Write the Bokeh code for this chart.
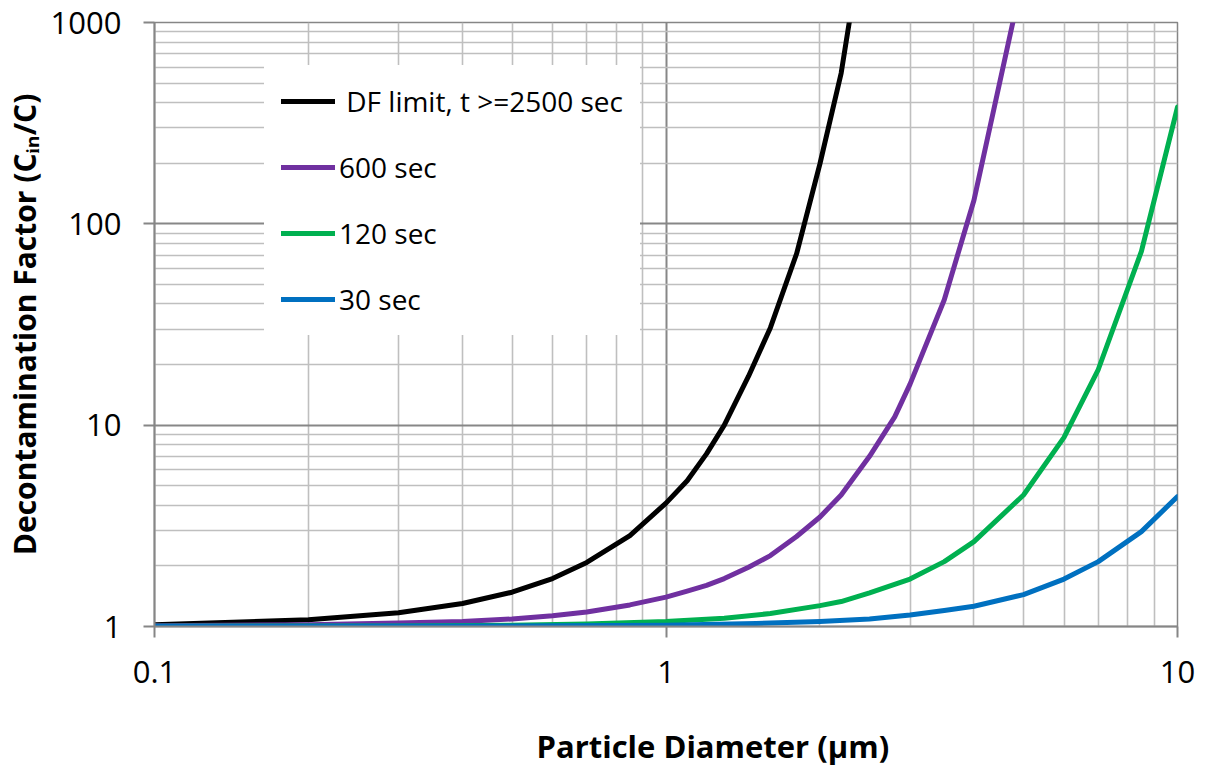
from bokeh.plotting import figure
from bokeh.models import FixedTicker, Legend, LegendItem, Range1d, Title
from bokeh.embed import file_html
from bokeh.resources import INLINE

# ---- data ----
x_black = [0.1, 0.2, 0.3, 0.4, 0.5, 0.6, 0.7, 0.85, 1.0, 1.1, 1.2, 1.3, 1.45, 1.6, 1.8, 2.0, 2.2, 2.5]
df_black = [1.02, 1.08, 1.17, 1.30, 1.48, 1.73, 2.08, 2.83, 4.1, 5.3, 7.2, 10.0, 17.5, 30.5, 71, 199, 560, 4300]

x_600 = [0.1, 0.2, 0.3, 0.4, 0.5, 0.6, 0.7, 0.85, 1.0, 1.1, 1.2, 1.3, 1.45, 1.6, 1.8, 2.0, 2.2, 2.5, 2.8, 3.0, 3.5, 4.0, 5.0]
df_600 = [1.01, 1.02, 1.04, 1.06, 1.09, 1.13, 1.18, 1.28, 1.40, 1.50, 1.60, 1.73, 1.97, 2.25, 2.8, 3.5, 4.5, 7.0, 11.0, 16.0, 42, 131, 1750]

x_120 = [0.1, 0.3, 0.5, 0.7, 1.0, 1.3, 1.6, 2.0, 2.2, 2.5, 3.0, 3.5, 4.0, 5.0, 6.0, 7.0, 8.5, 10]
df_120 = [1.003, 1.007, 1.015, 1.03, 1.06, 1.10, 1.16, 1.27, 1.33, 1.47, 1.72, 2.10, 2.64, 4.5, 8.7, 18.9, 73, 380]

x_30 = [0.1, 0.5, 1.0, 1.5, 2.0, 2.5, 3.0, 3.5, 4.0, 5.0, 6.0, 7.0, 8.5, 10]
df_30 = [1.003, 1.006, 1.015, 1.035, 1.06, 1.09, 1.14, 1.20, 1.26, 1.44, 1.72, 2.10, 2.96, 4.42]

series_names = [" DF limit, t >=2500 sec", "600 sec", "120 sec", "30 sec"]
series_colors = ["#000000", "#7030A0", "#00B050", "#0070C0"]

x_title = "Particle Diameter (\u03bcm)"
y_title = "Decontamination Factor (C\u1d62\u2099/C)"

x_ticks = [0.1, 1, 10]
x_tick_labels = ["0.1", "1", "10"]
x_minor = [0.2, 0.3, 0.4, 0.5, 0.6, 0.7, 0.8, 0.9, 2, 3, 4, 5, 6, 7, 8, 9]
y_ticks = [1, 10, 100, 1000]
y_tick_labels = ["1", "10", "100", "1000"]
y_minor = [2, 3, 4, 5, 6, 7, 8, 9, 20, 30, 40, 50, 60, 70, 80, 90,
           200, 300, 400, 500, 600, 700, 800, 900]

FONT = "Open Sans"

p = figure(width=1205, height=773, x_axis_type="log", y_axis_type="log",
           x_range=Range1d(0.1, 10), y_range=Range1d(1, 1000),
           output_backend="svg", toolbar_location=None,
           min_border_left=152, min_border_right=28,
           min_border_top=22, min_border_bottom=147)
p.outline_line_color = "#868686"
p.outline_line_width = 1.5
p.background_fill_color = "white"
p.border_fill_color = "white"

for ax, ticks, minor, labels in [(p.xaxis[0], x_ticks, x_minor, x_tick_labels),
                                 (p.yaxis[0], y_ticks, y_minor, y_tick_labels)]:
    ax.ticker = FixedTicker(ticks=ticks, minor_ticks=minor)
    ax.major_label_overrides = dict(zip(ticks, labels))
    ax.axis_line_color = "#868686"
    ax.axis_line_width = 2
    ax.major_tick_line_color = "#868686"
    ax.major_tick_line_width = 2
    ax.major_tick_in = 0
    ax.major_tick_out = 11
    ax.minor_tick_line_color = None
    ax.major_label_text_font = FONT
    ax.major_label_text_font_size = "31px"
    ax.major_label_text_color = "#000000"

p.xaxis.major_label_standoff = 23
p.yaxis.major_label_standoff = 22

# blank x axis label only reserves vertical room so the title below sits lower
p.xaxis.axis_label = " "
p.xaxis.axis_label_text_font_size = "1px"
p.xaxis.axis_label_standoff = 28

# y axis title (rotated, centred on the frame)
p.yaxis.axis_label = y_title
p.yaxis.axis_label_text_font = FONT
p.yaxis.axis_label_text_font_style = "bold"
p.yaxis.axis_label_text_font_size = "30px"
p.yaxis.axis_label_text_color = "#000000"
p.yaxis.axis_label_standoff = 3

for g in (p.xgrid[0], p.ygrid[0]):
    g.grid_line_color = "#878787"
    g.grid_line_width = 2
    g.minor_grid_line_color = "#BFBFBF"
    g.minor_grid_line_width = 1.6

renderers = []
for xs, ys, col in [(x_black, df_black, series_colors[0]),
                    (x_600, df_600, series_colors[1]),
                    (x_120, df_120, series_colors[2]),
                    (x_30, df_30, series_colors[3])]:
    r = p.line(xs, ys, line_color=col, line_width=5, line_join="round", line_cap="round")
    renderers.append(r)

legend = Legend(items=[LegendItem(label=n, renderers=[r]) for n, r in zip(series_names, renderers)],
                location=(110, 291))
legend.background_fill_color = "white"
legend.background_fill_alpha = 1.0
legend.border_line_color = "white"
legend.border_line_width = 1
legend.padding = 16
legend.spacing = 28
legend.glyph_height = 38
legend.label_height = 38
legend.glyph_width = 54
legend.label_standoff = 4
legend.label_text_font = FONT
legend.label_text_font_size = "28px"
legend.label_text_color = "#000000"
p.add_layout(legend, "center")

# x axis title, left-aligned with an offset so it sits where the reference has it
xt = Title(text=x_title, align="left", offset=382, standoff=10, vertical_align="bottom",
           text_font=FONT, text_font_style="bold", text_font_size="31px",
           text_color="#000000")
p.add_layout(xt, "below")

open("out.html", "w").write(file_html(p, INLINE))
